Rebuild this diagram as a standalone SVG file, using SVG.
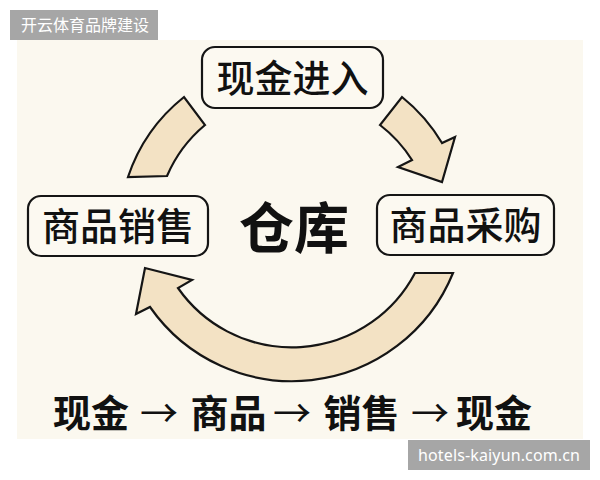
<svg xmlns="http://www.w3.org/2000/svg" width="600" height="480" viewBox="0 0 600 480">
<style>
.band{fill:#F3E2C4;stroke:#151515;stroke-width:2.2;stroke-linejoin:miter}
.box{fill:#FCF9F1;stroke:#151515;stroke-width:2.2}
.lbl{font-family:"Noto Sans CJK SC","Noto Sans",sans-serif;font-size:38px;font-weight:500;fill:#111;text-anchor:middle}
.big{font-family:"Noto Sans CJK SC","Noto Sans",sans-serif;font-size:55px;font-weight:700;fill:#111;text-anchor:middle}
.seq{font-family:"Noto Sans CJK SC","Noto Sans",sans-serif;font-size:38px;font-weight:700;fill:#111;text-anchor:middle}
.arr{font-weight:400}
.wm{fill:#A6A6A6}
.wmt{fill:#FFFFFF;font-size:16px}
</style>
<rect x="0" y="0" width="600" height="480" fill="#FFFFFF"/>
<rect x="17" y="40" width="566" height="399" fill="#FBF8EF"/>
<g id="connectors">
<path class="band" d="M128,177 A172,172 0 0 1 184,97 L205,125 A136,136 0 0 0 167,176 Z"/>
<path class="band" d="M402,97 A172,172 0 0 1 442,143 L455,137 L442,182 L398,167 L412,160 A136,136 0 0 0 380,125 Z"/>
<path class="band" d="M415,273 L453,273 A173.5,173.5 0 0 1 150,307 L136,314 L145,268 L192,280 L178,288 A139,139 0 0 0 415,273 Z"/>
</g>
<g id="node-cash-in">
<rect class="box" x="202" y="47" width="181" height="61" rx="13"/>
<text class="lbl" x="292.5" y="92">现金进入</text>
</g>
<g id="node-sales">
<rect class="box" x="28" y="196" width="180" height="60" rx="13"/>
<text class="lbl" x="118" y="240">商品销售</text>
</g>
<g id="node-purchase">
<rect class="box" x="377" y="195" width="177" height="60" rx="13"/>
<text class="lbl" x="465.5" y="239">商品采购</text>
</g>
<g id="node-warehouse">
<text class="big" x="294" y="248">仓库</text>
</g>
<g id="sequence">
<text class="seq" x="91" y="427">现金</text>
<text class="seq arr" x="159" y="427">→</text>
<text class="seq" x="228.5" y="427">商品</text>
<text class="seq arr" x="292" y="427">→</text>
<text class="seq" x="361.5" y="427">销售</text>
<text class="seq arr" x="430" y="427">→</text>
<text class="seq" x="494" y="427">现金</text>
</g>
<g id="watermarks">
<rect class="wm" x="10" y="10" width="148" height="30"/>
<text class="wmt" x="21" y="31" font-family="Noto Sans CJK SC, sans-serif">开云体育品牌建设</text>
<rect class="wm" x="408" y="440" width="182" height="30"/>
<text class="wmt" x="418" y="461" font-family="Noto Sans, sans-serif" font-size="17" textLength="162">hotels-kaiyun.com.cn</text>
</g>
</svg>
